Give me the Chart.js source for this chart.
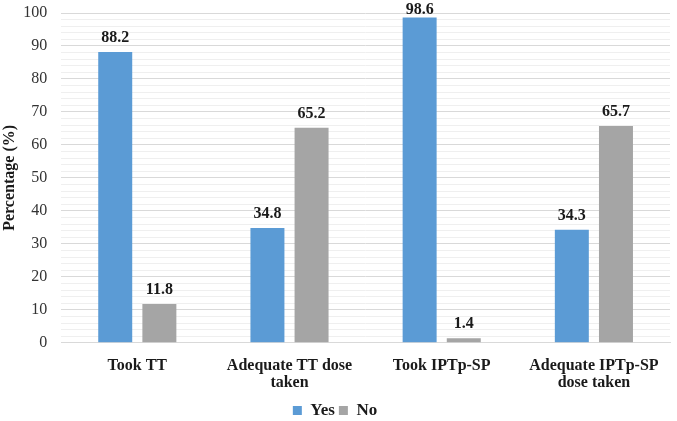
<!DOCTYPE html>
<html>
<head>
<meta charset="utf-8">
<script src="https://cdn.jsdelivr.net/npm/chart.js@4.4.1/dist/chart.umd.min.js"></script>
<style>
  html, body { margin: 0; padding: 0; background: #fff; }
  #wrap { width: 677px; height: 421px; }
</style>
</head>
<body>
<div id="wrap"><canvas id="chart"></canvas></div>
<script>
var categories = [['Took TT'], ['Adequate TT dose', 'taken'], ['Took IPTp-SP'], ['Adequate IPTp-SP', 'dose taken']];
var yesValues = [88.2, 34.8, 98.6, 34.3];
var noValues = [11.8, 65.2, 1.4, 65.7];

var serif = '"Liberation Serif", "Times New Roman", serif';

// etichette sopra le barre (tenute dentro il canvas)
var valueLabels = {
    id: 'valueLabels',
    afterDatasetsDraw: function (chart) {
        var ctx = chart.ctx;
        ctx.save();
        ctx.font = 'bold 16px ' + serif;
        ctx.fillStyle = '#1a1a1a';
        ctx.textAlign = 'center';
        ctx.textBaseline = 'alphabetic';
        chart.data.datasets.forEach(function (ds, i) {
            chart.getDatasetMeta(i).data.forEach(function (bar, j) {
                ctx.fillText(ds.data[j].toFixed(1), bar.x, Math.max(bar.y - 10, 14));
            });
        });
        ctx.restore();
    }
};

new Chart(document.getElementById('chart'), {
    type: 'bar',
    data: {
        labels: categories,
        datasets: [
            { label: 'Yes', data: yesValues, backgroundColor: '#5B9BD5' },
            { label: 'No', data: noValues, backgroundColor: '#A5A5A5' }
        ]
    },
    options: {
        responsive: true,
        maintainAspectRatio: false,
        animation: false,
        categoryPercentage: 0.58,
        barPercentage: 0.77,
        layout: { padding: { top: 13, right: 7, left: 0, bottom: -8 } },
        scales: {
            x: {
                grid: { display: false },
                border: { color: '#D9D9D9' },
                ticks: { color: '#1a1a1a', font: { family: serif, size: 16, weight: 'bold', lineHeight: 1.1 }, maxRotation: 0, padding: 6 }
            },
            y: {
                min: 0,
                max: 100,
                border: { display: false },
                grid: {
                    color: function (c) { return c.tick && c.tick.value % 10 === 0 ? '#D9D9D9' : '#EFEFEF'; },
                    drawTicks: false
                },
                ticks: {
                    stepSize: 2,
                    autoSkip: false,
                    padding: 14,
                    color: '#333',
                    font: { family: serif, size: 16 },
                    callback: function (v) { return v % 10 === 0 ? v : ''; }
                },
                title: { display: true, text: 'Percentage (%)', color: '#1a1a1a', padding: 0, font: { family: serif, size: 16, weight: 'bold' } },
                afterFit: function (scale) { scale.width -= 10; scale.paddingTop = 0; }
            }
        },
        plugins: {
            legend: {
                position: 'bottom',
                labels: { boxWidth: 9, boxHeight: 9, padding: 4, color: '#1a1a1a', font: { family: serif, size: 17, weight: 'bold' } }
            },
            tooltip: { enabled: false }
        }
    },
    plugins: [valueLabels]
});
</script>
</body>
</html>
